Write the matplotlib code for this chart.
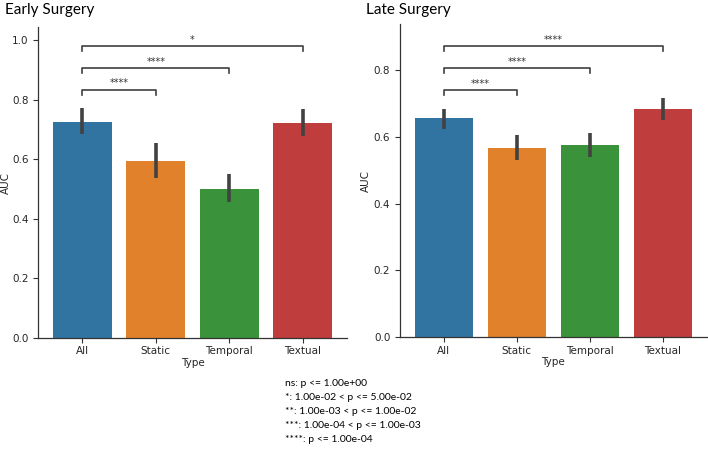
import numpy as np
import matplotlib.pyplot as plt

categories = ['All', 'Static', 'Temporal', 'Textual']
colors = ['#3274a1', '#e1812c', '#3a923a', '#c03d3e']

early_auc = [0.726, 0.593, 0.501, 0.721]
early_lo = [0.684, 0.536, 0.458, 0.678]
early_hi = [0.771, 0.653, 0.549, 0.768]

late_auc = [0.655, 0.567, 0.575, 0.682]
late_lo = [0.624, 0.531, 0.539, 0.650]
late_hi = [0.684, 0.606, 0.612, 0.715]

# pairs compared against 'All' and their significance labels
pairs = [(0, 1), (0, 2), (0, 3)]
early_stars = ['****', '****', '*']
late_stars = ['****', '****', '****']

legend_lines = [
    'ns: p <= 1.00e+00',
    '*: 1.00e-02 < p <= 5.00e-02',
    '**: 1.00e-03 < p <= 1.00e-02',
    '***: 1.00e-04 < p <= 1.00e-03',
    '****: p <= 1.00e-04',
]


def draw_panel(ax, auc, lo, hi, stars, ytop, yticks, label_x):
    x = np.arange(len(categories))
    ax.bar(x, auc, width=0.8, color=colors, edgecolor='none')
    ax.vlines(x, lo, hi, color='#424242', linewidth=2.6)
    ax.set_xlim(-0.6, 3.6)
    ax.set_ylim(0, ytop)
    ax.set_yticks(yticks)
    ax.set_yticklabels([f'{t:.1f}' for t in yticks])
    ax.set_xticks(x)
    ax.set_xticklabels(categories)
    ax.tick_params(labelsize=7.5, colors='#333333', length=3.5, width=0.8)
    ax.tick_params(axis='x', pad=2.5)
    ax.tick_params(labelcolor='#262626')
    ax.set_xlabel('Type', fontsize=7.5, labelpad=1, color='#262626')
    ax.set_ylabel('AUC', fontsize=7.5, color='#262626')
    ax.yaxis.set_label_coords(label_x, 0.5)
    for s in ['top', 'right']:
        ax.spines[s].set_visible(False)
    for s in ['left', 'bottom']:
        ax.spines[s].set_linewidth(0.9)
        ax.spines[s].set_color('#333333')

    # significance brackets, stacked above the highest error bar of each pair
    step = 0.07 * ytop
    tick = 0.016 * ytop
    base = max(hi[0], hi[1]) + 0.06 * ytop
    for i, ((a, b), lab) in enumerate(zip(pairs, stars)):
        y = base + i * step
        ax.plot([a, a, b, b], [y - tick, y, y, y - tick], color='#404040',
                linewidth=1.2, clip_on=False)
        ax.text((a + b) / 2, y + 0.004 * ytop, lab, ha='center', va='bottom',
                fontsize=7, color='#333333')


fig = plt.figure(figsize=(7.08, 4.49), dpi=100)
ax1 = fig.add_axes([0.054, 0.247, 0.436, 0.693])
ax2 = fig.add_axes([0.565, 0.249, 0.433, 0.697])

draw_panel(ax1, early_auc, early_lo, early_hi, early_stars,
           1.044, [0.0, 0.2, 0.4, 0.6, 0.8, 1.0], -0.087)
draw_panel(ax2, late_auc, late_lo, late_hi, late_stars,
           0.937, [0.0, 0.2, 0.4, 0.6, 0.8], -0.094)

fig.text(5 / 708, 1 - 10 / 449, 'Early Surgery', fontsize=11, family='Lato',
         ha='left', va='center', color='black')
fig.text(366 / 708, 1 - 10 / 449, 'Late Surgery', fontsize=11, family='Lato',
         ha='left', va='center', color='black')

for i, line in enumerate(legend_lines):
    fig.text(285 / 708, 1 - (383 + i * 14) / 449, line, fontsize=7.5,
             family='Lato', ha='left', va='center', color='black')

fig.savefig('out.png', dpi=100)
